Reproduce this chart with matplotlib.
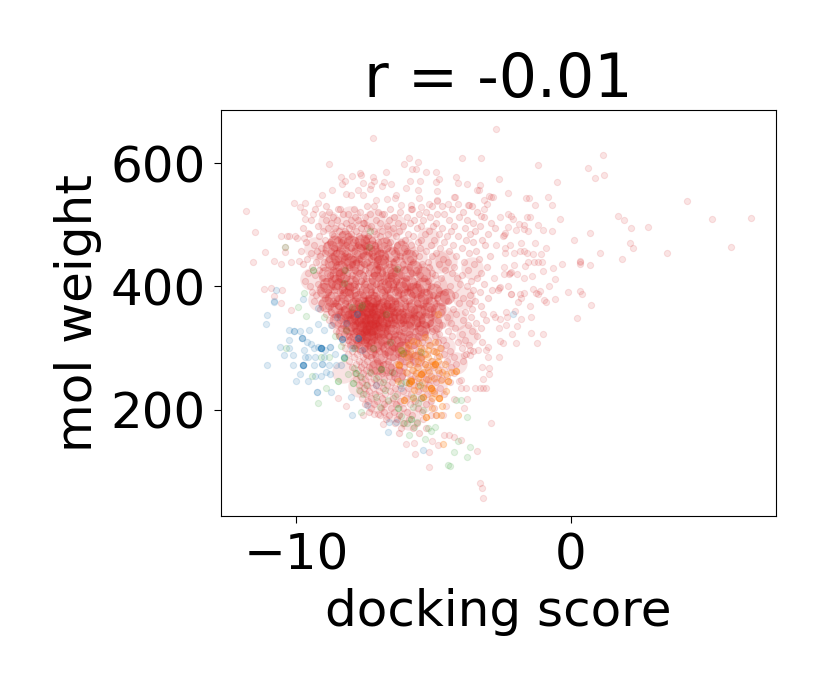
import numpy as np
import matplotlib
matplotlib.use("Agg")
import matplotlib.pyplot as plt

# points (docking score, mol weight)
blue_points = [
    (-11.05,354),(-11.09,339),(-10.79,375),(-10.73,394),(-10.79,376),(-11.05,273),
    (-9.76,273),(-9.76,273),(-9.76,273),(-9.76,273),(-9.76,273),(-9.1,301),(-9.1,301),(-9.1,301),(-9.1,301),(-9.1,301),(-9.1,301),
    (-9.77,316),(-9.77,316),(-9.77,316),(-10.06,328),(-10.06,328),(-10.24,329),(-9.87,328),
    (-10.57,302),(-10.24,301),(-10.44,289),(-10.02,247),(-9.25,229),(-9.25,229),(-9.55,247),(-8.73,229),
    (-8.76,302),(-8.76,302),(-8.33,315),(-8.33,315),(-8.33,315),(-7.76,316),(-7.76,316),(-7.76,316),
    (-7.78,355),(-7.78,355),(-8.27,285),(-8.27,285),(-9.05,274),(-9.05,274),(-9.72,297),(-9.36,300),
    (-9.55,286),(-10.12,273),(-9.84,258),(-7.97,191),(-7.42,208),(-8.02,221),(-6.62,180),(-6.36,180),
    (-6.64,164),(-5.37,135),(-9.21,339),(-8.97,329),(-9.54,329),(-10.24,313),(-10.12,289),(-8.79,273),
    (-8.55,273),(-8.36,273),(-9.33,255),(-9.09,255),(-8.76,258),(-7.97,300),(-7.6,297),(-6.18,235),
    (-7.09,240),(-8.18,340),(-8.73,338),(-9.67,286),(-9.36,273),(-2.1,355),(-9.2,302),(-8.95,297),
    (-9.46,306),(-9.0,285),(-8.6,290),(-8.9,262),(-9.3,285),(-9.6,310),(-8.5,350),(-9.2,365),(-9.75,380),
]
orange_points = [
    (-5.45,258),(-5.45,258),(-5.45,258),(-5.38,262),(-5.82,247),(-5.82,247),(-5.82,247),(-5.9,243),(-5.9,243),(-5.86,249),(-6.24,272),(-6.24,272),
    (-4.96,275),(-4.96,275),(-4.96,275),(-5.02,272),(-5.69,289),(-6.3,246),(-5.11,235),(-5.11,235),(-5.11,235),(-5.05,233),(-5.39,221),(-5.39,221),
    (-4.79,219),(-4.79,219),(-4.79,219),(-6.06,216),(-6.06,216),(-5.76,220),(-4.48,247),(-4.48,247),(-4.55,231),(-4.17,263),(-4.17,263),(-5.27,189),(-5.27,189),(-4.91,192),
    (-4.73,192),(-4.73,248),(-4.97,251),(-5.57,238),(-5.33,235),(-5.07,203),(-4.69,206),(-5.07,219),(-4.11,192),
    (-4.66,144),(-5.94,305),(-5.58,308),(-5.21,297),(-4.85,356),(-4.91,294),(-5.45,284),(-5.94,286),(-5.33,275),
    (-4.85,265),(-6.18,297),(-6.3,275),(-5.76,312),(-5.5,295),(-5.2,285),(-5.05,280),(-4.8,288),(-4.6,275),
    (-5.6,270),(-5.15,262),(-4.75,300),(-5.3,318),(-4.95,310),(-5.65,260),(-4.55,258),(-6.0,262),(-5.85,295),
    (-5.42,245),(-5.2,250),(-4.35,262),(-5.0,228),(-5.7,232),(-6.1,290),(-5.3,290),(-5.0,295),(-5.55,280),
    (-5.75,265),(-5.15,305),(-4.85,280),(-5.45,300),(-5.9,275),(-5.25,270),(-4.7,262),(-5.55,252),
]
green_points = [
    (-9.2,211),(-4.48,111),(-4.42,109),(-3.78,124),(-4.27,131),(-3.68,140),(-4.1,149),(-3.79,189),(-4.95,173),
    (-5.09,165),(-5.33,152),(-5.82,185),(-5.82,185),(-5.6,181),(-6.12,178),(-5.58,211),(-5.76,205),(-6.3,203),
    (-6.3,203),(-6.67,216),(-7.64,197),(-8.91,235),(-8.48,246),(-8.48,246),(-7.92,244),(-7.92,244),(-7.82,259),
    (-7.82,259),(-7.64,254),(-6.91,267),(-6.91,267),(-7.09,221),(-7.7,232),(-9.42,255),(-8.79,286),(-8.24,284),
    (-8.24,284),(-9.09,286),(-8.36,303),(-10.36,301),(-9.63,352),(-8.97,351),(-7.64,367),(-6.73,356),(-6.18,297),
    (-6.12,292),(-5.46,294),(-4.2,216),(-4.0,216),(-6.18,243),(-5.46,219),(-5.76,221),(-10.42,464),(-7.31,490),
    (-7.34,464),(-6.33,428),(-8.22,427),(-9.39,427),(-9.39,427),(-8.27,405),(-9.72,389),(-9.94,367),(-7.98,367),
    (-7.6,370),(-7.3,262),(-7.1,252),(-6.85,245),(-7.45,240),(-7.9,268),(-8.1,258),(-6.5,262),(-6.75,232),
    (-6.2,190),(-5.95,178),(-5.72,172),(-5.4,200),(-8.6,320),(-8.2,330),(-7.9,300),(-7.2,300),(-6.6,310),
    (-7.55,225),(-6.95,205),(-6.4,222),(-5.2,170),(-5.9,160),(-6.0,245),(-5.5,240),
]
red_outer = [
    (-2.73,656),(-1.21,597),(1.15,613),(0.63,592),(0.87,575),(1.19,581),(-0.53,569),(-2.64,574),(4.2,539),
    (5.11,509),(6.54,511),(5.83,464),(1.7,514),(1.94,508),(2.18,494),(2.8,496),(2.15,470),(2.24,462),
    (3.47,455),(1.84,444),(1.04,454),(0.69,486),(0.11,475),(0.33,439),(0.33,441),(0.33,437),(0.68,435),
    (-0.34,436),(-0.67,430),(-1.04,425),(-0.6,412),(-0.79,400),(-0.11,391),(0.33,392),(0.41,387),(0.74,370),
    (0.23,349),(-0.59,380),(-0.92,375),(-1.47,351),(-1.5,369),(-1.45,325),(-1.01,323),(-1.25,309),(-2.0,309),
    (-0.41,509),(-0.83,545),(-0.71,532),(-1.31,532),(-1.64,544),(-1.54,544),(-2.29,552),(-2.85,545),(-1.49,513),
    (-1.59,513),(-2.28,518),(-2.17,514),(-2.1,510),(-2.57,512),(-1.22,499),(-1.03,491),(-0.71,490),(-1.88,501),
    (-1.73,500),(-1.73,493),(-1.55,490),(-2.0,491),(-2.28,496),(-2.44,483),(-2.42,486),(-2.46,481),(-1.82,470),
    (-1.33,470),(-0.92,462),(-2.24,468),(-2.74,467),(-2.4,462),(-2.4,454),(-2.06,455),(-1.85,457),(-1.73,457),
    (-1.61,455),(-1.37,452),(-1.09,453),(-1.35,440),(-1.2,440),(-1.07,440),(-1.55,439),(-1.67,433),(-2.07,435),
    (-2.44,432),(-2.22,422),(-2.2,424),(-2.25,421),(-2.44,421),(-1.95,421),(-1.43,417),(-1.7,413),(-2.82,413),
    (-2.62,397),(-2.6,399),(-2.65,395),(-2.28,400),(-2.19,387),(-2.17,388),(-1.85,388),(-1.83,381),(-1.7,390),
    (-1.92,375),(-1.39,396),(-1.13,393),(-1.19,387),(-1.27,389),(-1.0,378),(-2.38,359),(-2.04,360),(-1.82,347),
    (-2.85,356),(-2.76,351),(-2.58,347),(-2.34,351),(-2.61,332),(-2.36,338),(-1.98,336),(-2.15,323),(-2.58,311),
    (-2.46,308),(-11.82,523),(-11.49,488),(-11.12,456),(-11.58,440),(-10.79,442),(-10.56,436),(-10.2,439),
    (-9.9,442),(-10.55,482),(-10.34,482),(-10.04,482),(-10.25,482),(-9.95,479),(-9.73,479),(-9.55,487),
    (-10.42,464),(-10.4,456),(-10.06,536),(-9.84,529),(-9.66,535),(-9.67,509),(-9.4,517),(-9.19,535),(-9.05,548),
    (-8.69,557),(-8.81,599),(-7.22,641),(-8.35,578),(-8.22,571),(-8.34,566),(-7.96,579),(-7.68,584),(-7.63,580),
    (-7.21,578),(-7.17,571),(-7.27,564),(-6.73,585),(-6.79,570),(-6.86,563),(-6.54,566),(-7.55,568),(-7.31,558),
    (-6.06,599),(-5.88,609),(-5.55,602),(-5.79,590),(-5.65,591),(-5.26,585),(-4.91,585),(-4.79,574),(-4.91,570),
    (-5.87,571),(-5.49,571),(-6.0,559),(-5.58,557),(-4.87,555),(-5.54,544),(-4.88,539),(-4.88,540),(-4.2,577),
    (-4.11,567),(-3.79,566),(-3.96,609),(-3.29,609),(-3.43,556),(-3.33,564),(-3.36,556),(-4.24,545),(-4.22,545),
    (-4.46,533),(-4.12,533),(-3.73,532),(-3.75,532),(-3.15,540),(-2.99,546),(-2.93,545),(-3.06,533),(-3.15,525),
    (-3.28,515),(-8.2,550),(-8.0,548),(-7.76,556),(-7.58,548),(-7.09,540),(-6.7,541),(-6.42,543),(-6.36,548),
    (-6.18,532),(-5.82,532),(-5.46,529),(-5.15,533),(-2.9,179),(-3.43,134),(-5.16,107),(-3.3,81),(-3.24,73),
    (-3.21,57),(-5.66,128),(-5.18,131),(-4.84,143),(-4.61,159),(-4.43,159),(-4.24,156),(-4.02,151),(-5.07,150),
    (-6.0,145),(-5.7,146),(-3.79,218),(-4.24,217),(-3.9,203),(-4.54,207),(-4.66,192),(-4.91,192),(-3.82,235),
    (-3.51,235),(-3.33,235),(-3.2,235),(-3.09,235),(-4.0,235),(-3.19,250),(-2.97,258),(-3.23,269),(-2.99,268),
    (-2.63,286),(-3.03,286),(-3.39,297),(-3.09,297),(-3.03,302),(-3.69,297),(-3.88,289),(-3.69,289),(-8.46,220),
    (-8.18,206),(-7.58,192),(-7.15,193),(-7.03,193),(-6.85,177),(-4.07,246),(-4.0,248),(-10.5,395),(-10.9,398),
    (-11.15,396),(-10.8,385),(-10.55,373),(-10.2,362),
]
# inner cloud, written row by row: mol weight, then the scores seen around it
red_rows = [
    (531, [-8.93,-7.41,-7.18,-5.06,-4.71,-3.62]),
    (526, [-9.32,-8.47,-8.39,-7.91,-6.58,-5.83,-5.77,-4.33]),
    (521, [-9.71,-8.81,-7.66,-7.02,-6.21,-5.29,-3.94,-3.41]),
    (517, [-9.07,-8.28,-8.13,-7.33,-6.87,-6.79,-5.54,-4.88,-4.62]),
    (513, [-8.66,-7.87,-7.49,-6.44,-5.97,-5.12,-4.07,-3.18]),
    (507, [-9.44,-8.92,-8.51,-8.02,-7.74,-7.11,-6.63,-5.71,-5.38,-4.45,-3.77]),
    (503, [-8.74,-8.18,-7.58,-7.52,-6.96,-6.31,-5.86,-4.93,-3.55,-2.92]),
    (498, [-9.21,-8.36,-7.95,-7.28,-6.71,-6.12,-5.47,-5.02,-4.24,-3.31]),
    (494, [-9.76,-8.83,-8.59,-8.07,-7.63,-7.41,-6.49,-5.62,-4.68,-3.86,-2.77]),
    (490, [-9.03,-8.44,-8.23,-7.81,-7.17,-6.88,-6.25,-5.18,-4.37,-3.49]),
    (485, [-9.52,-8.71,-8.32,-7.99,-7.54,-7.08,-6.66,-5.93,-5.33,-4.81,-3.67,-3.02]),
    (481, [-9.18,-8.63,-8.11,-7.72,-7.37,-6.94,-6.38,-5.74,-4.52,-4.12]),
    (476, [-8.96,-8.52,-8.28,-7.86,-7.47,-7.23,-6.74,-6.03,-5.44,-4.97,-3.83,-3.25]),
    (472, [-9.65,-8.77,-8.38,-7.93,-7.61,-7.02,-6.57,-6.19,-5.58,-4.63,-3.58]),
    (467, [-9.34,-8.86,-8.17,-7.76,-7.51,-7.14,-6.81,-6.33,-5.81,-5.09,-4.29,-3.12]),
    (463, [-9.08,-8.61,-8.42,-8.01,-7.68,-7.29,-6.69,-6.08,-5.49,-4.76,-3.95]),
    (458, [-9.83,-9.24,-8.73,-8.33,-7.89,-7.44,-7.06,-6.52,-5.95,-5.26,-4.43,-3.44]),
    (454, [-9.47,-8.94,-8.55,-8.21,-7.79,-7.35,-6.91,-6.44,-5.68,-4.91,-3.71]),
    (449, [-9.12,-8.68,-8.27,-8.06,-7.57,-7.19,-6.77,-6.22,-5.53,-5.04,-4.18,-2.96]),
    (445, [-9.61,-8.81,-8.46,-7.92,-7.71,-7.26,-7.01,-6.35,-5.87,-4.66,-3.36]),
    (440, [-9.29,-8.99,-8.58,-8.14,-7.83,-7.42,-6.84,-6.47,-5.76,-5.21,-4.49,-3.88]),
    (436, [-9.74,-8.72,-8.36,-7.97,-7.53,-7.11,-6.63,-6.11,-5.42,-4.82,-3.52]),
    (431, [-9.41,-9.03,-8.49,-8.09,-7.66,-7.31,-6.97,-6.29,-5.91,-5.15,-4.25,-3.07]),
    (427, [-9.16,-8.64,-8.25,-7.84,-7.49,-7.05,-6.58,-6.05,-5.63,-4.59,-3.74]),
    (422, [-9.57,-8.89,-8.43,-8.11,-7.73,-7.38,-6.86,-6.41,-5.79,-5.07,-4.33,-3.28]),
    (418, [-9.33,-8.76,-8.31,-7.96,-7.55,-7.16,-6.73,-6.17,-5.51,-4.95,-3.97]),
    (413, [-9.05,-8.57,-8.19,-7.81,-7.44,-7.02,-6.55,-6.01,-5.34,-4.72,-4.14,-3.42]),
    (409, [-9.68,-8.93,-8.47,-8.03,-7.63,-7.25,-6.82,-6.37,-5.72,-5.22,-3.63]),
    (404, [-9.22,-8.69,-8.34,-7.88,-7.51,-7.09,-6.64,-6.12,-5.59,-4.88,-4.03,-3.17]),
    (400, [-9.51,-8.98,-8.52,-8.13,-7.76,-7.33,-6.93,-6.46,-5.84,-5.11,-4.41,-3.79]),
    (395, [-9.11,-8.62,-8.24,-7.91,-7.47,-7.13,-6.71,-6.24,-5.66,-4.79,-3.55,-2.88]),
    (391, [-9.42,-8.83,-8.41,-8.04,-7.69,-7.27,-6.89,-6.39,-5.97,-5.28,-4.57,-3.33]),
    (386, [-9.27,-8.74,-8.29,-7.85,-7.58,-7.18,-6.76,-6.28,-5.78,-5.03,-4.21,-3.66]),
    (382, [-8.96,-8.51,-8.16,-7.77,-7.39,-7.04,-6.61,-6.08,-5.46,-4.86,-3.92,-3.01]),
    (377, [-9.36,-8.67,-8.37,-7.94,-7.52,-7.21,-6.83,-6.42,-5.88,-5.17,-4.46,-3.48]),
    (373, [-9.08,-8.58,-8.21,-7.82,-7.43,-7.1,-6.69,-6.19,-5.61,-4.93,-4.09,-3.73]),
    (368, [-8.84,-8.46,-8.07,-7.71,-7.33,-6.98,-6.52,-6.03,-5.37,-4.68,-3.26]),
    (364, [-9.14,-8.62,-8.27,-7.89,-7.56,-7.19,-6.78,-6.33,-5.82,-5.12,-4.31,-3.59]),
    (359, [-8.73,-8.35,-7.98,-7.62,-7.25,-6.88,-6.47,-5.94,-5.29,-4.74,-3.86]),
    (355, [-8.92,-8.49,-8.12,-7.74,-7.41,-7.06,-6.59,-6.11,-5.54,-4.97,-4.17,-3.19]),
    (350, [-8.58,-8.22,-7.86,-7.49,-7.14,-6.74,-6.26,-5.73,-5.08,-4.52,-3.64]),
    (346, [-8.81,-8.39,-8.03,-7.67,-7.32,-6.95,-6.54,-6.02,-5.41,-4.83,-3.94,-3.08]),
    (341, [-8.47,-8.14,-7.79,-7.44,-7.08,-6.67,-6.18,-5.62,-5.14,-4.38,-3.47]),
    (337, [-8.69,-8.28,-7.93,-7.57,-7.21,-6.82,-6.39,-5.86,-5.27,-4.71,-3.75]),
    (332, [-8.36,-8.01,-7.68,-7.31,-6.97,-6.56,-6.07,-5.48,-4.91,-4.23,-3.28]),
    (328, [-8.54,-8.17,-7.82,-7.46,-7.12,-6.71,-6.24,-5.69,-5.06,-4.47,-3.61]),
    (323, [-8.26,-7.91,-7.59,-7.24,-6.88,-6.43,-5.91,-5.32,-4.79,-3.98]),
    (319, [-8.44,-8.08,-7.73,-7.38,-7.03,-6.62,-6.13,-5.57,-4.96,-4.34,-3.42]),
    (314, [-8.12,-7.81,-7.47,-7.16,-6.79,-6.34,-5.82,-5.21,-4.66,-3.85]),
    (310, [-8.31,-7.95,-7.63,-7.29,-6.92,-6.51,-6.02,-5.43,-4.83,-4.12,-3.23]),
    (305, [-8.04,-7.72,-7.39,-7.07,-6.68,-6.22,-5.71,-5.13,-4.55,-3.72]),
    (300, [-8.22,-7.86,-7.54,-7.21,-6.85,-6.44,-5.93,-5.36,-4.74,-3.96]),
    (295, [-7.96,-7.66,-7.33,-6.99,-6.58,-6.11,-5.58,-5.02,-4.41,-3.58]),
    (290, [-8.13,-7.78,-7.47,-7.14,-6.76,-6.31,-5.79,-5.24,-4.63,-3.82]),
    (285, [-7.88,-7.58,-7.27,-6.91,-6.49,-6.01,-5.47,-4.89,-4.27]),
    (280, [-8.07,-7.71,-7.41,-7.06,-6.66,-6.21,-5.68,-5.09,-4.52,-3.92]),
    (275, [-7.83,-7.52,-7.2,-6.83,-6.37,-5.87,-5.31,-4.73,-4.18]),
    (270, [-7.97,-7.64,-7.34,-6.98,-6.56,-6.09,-5.56,-4.97,-4.38]),
    (265, [-7.75,-7.45,-7.12,-6.73,-6.27,-5.77,-5.21,-4.62]),
    (260, [-7.87,-7.57,-7.26,-6.88,-6.44,-5.95,-5.42,-4.81,-4.24]),
    (255, [-7.69,-7.38,-7.03,-6.62,-6.16,-5.66,-5.09,-4.53]),
    (250, [-7.81,-7.5,-7.17,-6.79,-6.33,-5.83,-5.27,-4.7]),
    (245, [-7.6,-7.29,-6.94,-6.52,-6.04,-5.52,-4.93,-4.4]),
    (240, [-7.72,-7.43,-7.08,-6.69,-6.23,-5.72,-5.16]),
    (235, [-7.54,-7.21,-6.84,-6.41,-5.93,-5.37,-4.76]),
    (230, [-7.66,-7.34,-6.98,-6.58,-6.11,-5.58,-4.98]),
    (225, [-7.46,-7.13,-6.75,-6.32,-5.81,-5.23,-4.62]),
    (220, [-7.59,-7.26,-6.89,-6.48,-6.01,-5.44]),
    (215, [-7.38,-7.04,-6.66,-6.22,-5.69,-5.09]),
    (209, [-7.49,-7.17,-6.79,-6.37,-5.87,-5.29]),
    (203, [-7.27,-6.93,-6.54,-6.12,-5.58,-4.97]),
    (197, [-7.36,-6.81,-6.44,-5.98,-5.42]),
    (191, [-6.96,-6.62,-6.27,-5.79,-5.11]),
    (185, [-6.72,-6.33,-5.91,-5.37]),
    (178, [-6.41,-6.07,-5.62]),
    (170, [-6.19,-5.74,-5.28]),
    (162, [-6.26,-5.52]),
]
# broad pale wash under the cloud, one typed point stands in for several
red_wash = [
    (-9.3,462),(-8.82,505),(-8.41,478),(-8.93,443),(-8.05,512),(-7.62,490),(-7.88,454),(-7.18,508),(-6.78,481),
    (-7.31,446),(-6.39,500),(-6.06,462),(-6.71,432),(-5.63,448),(-5.21,478),(-4.82,440),(-9.45,412),(-9.18,378),
    (-4.36,408),(-3.91,382),(-4.18,348),(-4.62,302),(-4.2,276),(-3.78,322),(-8.3,262),(-7.71,238),(-7.12,212),
    (-6.52,198),(-5.88,186),(-5.41,212),(-4.92,238),(-6.22,222),(-6.8,248),(-5.6,246),(-5.08,262),(-7.35,272),
    (-6.35,272),(-5.75,298),(-5.15,322),(-4.71,352),(-5.42,352),(-4.9,400),(-5.35,420),(-4.55,442),(-3.6,430),
]
# hottest part of the cloud
red_core = [
    (-8.6,470),(-8.3,455),(-8.0,470),(-7.7,458),(-7.4,472),(-7.1,455),(-6.8,468),(-6.5,452),(-6.2,462),(-5.9,448),
    (-8.7,440),(-8.4,430),(-8.1,442),(-7.8,432),(-7.5,445),(-7.2,428),(-6.9,440),(-6.6,425),(-6.3,436),(-6.0,422),
    (-5.7,430),(-5.4,420),(-8.9,420),(-8.6,408),(-8.3,418),(-8.0,405),(-7.7,415),(-7.4,402),(-7.1,412),(-6.8,400),
    (-6.5,410),(-6.2,396),(-5.9,405),(-5.6,392),(-5.3,385),(-5.0,392),(-4.7,382),(-9.0,395),(-8.7,380),(-8.45,400),
    (-8.2,385),(-7.95,395),(-7.7,382),(-7.45,392),(-7.2,380),(-6.95,390),(-6.7,376),(-6.45,388),(-6.2,372),(-5.95,384),
    (-5.7,368),(-5.45,378),(-5.2,362),(-8.9,372),(-8.6,362),(-8.35,375),(-8.1,360),(-7.85,370),(-7.6,358),(-7.35,372),
    (-7.1,360),(-6.85,368),(-6.6,355),(-6.35,365),(-6.1,352),(-5.85,362),(-5.6,348),(-8.5,345),(-8.25,355),(-8.0,340),
    (-7.75,350),(-7.5,338),(-7.25,350),(-7.0,340),(-6.75,348),(-6.5,335),(-6.25,345),(-6.0,332),(-5.75,342),(-5.5,325),
    (-8.3,325),(-8.05,335),(-7.8,322),(-7.55,332),(-7.3,320),(-7.05,330),(-6.8,318),(-6.55,326),(-6.3,315),(-6.05,322),
    (-5.8,312),(-7.9,312),(-7.65,305),(-7.4,315),(-7.15,305),(-6.9,312),(-6.65,300),(-6.4,308),(-6.15,298),(-7.35,342),
    (-7.2,335),(-7.45,352),(-7.6,345),(-7.05,352),(-7.3,362),(-6.9,328),(-7.55,320),(-7.3,332),(-7.15,345),(-7.4,325),
    (-7.0,365),(-7.7,335),(-6.85,340),(-7.45,365),(-7.25,375),(-7.6,372),(-7.85,358),(-8.0,350),(-6.6,345),(-6.7,362),
    # upper left patch and the band to the right of the middle
    (-8.75,462),(-8.48,448),(-8.22,478),(-7.95,438),(-8.52,418),(-8.86,402),(-8.18,398),(-7.62,472),(-7.28,462),
    (-6.92,448),(-6.42,418),(-6.12,402),(-5.72,395),(-5.38,402),(-5.12,372),(-4.85,362),(-4.52,385),(-5.55,358),
    (-5.28,345),(-4.95,338),(-6.28,352),(-6.55,372),(-5.98,345),(-5.42,332),(-6.62,402),(-7.02,422),
    # thinner lower part
    (-7.35,295),(-6.95,288),(-6.5,292),(-6.05,285),(-6.72,268),(-6.28,258),(-5.62,282),(-7.1,270),
]

xlim = (-12.73, 7.45)
ylim = (28, 686)
xticks = [-10, 0]
yticks = [200, 400, 600]
title = "r = -0.01"

fig = plt.figure(figsize=(8.3, 6.92), dpi=100)
ax = fig.add_axes([221 / 830, 1 - 516 / 692, 555 / 830, 406 / 692])

pt_blue = np.array(blue_points)
pt_orange = np.array(orange_points)
pt_green = np.array(green_points)
pt_outer = np.array(red_outer)
pt_wash = np.array(red_wash)
pt_core = np.array(red_core)
rows_x = np.concatenate([row[1] for row in red_rows])
rows_y = np.concatenate([[row[0]] * len(row[1]) for row in red_rows])

ax.scatter(pt_wash[:, 0], pt_wash[:, 1], s=260, color="tab:red", alpha=0.13, linewidths=0)
ax.scatter(pt_core[:, 0], pt_core[:, 1], s=130, color="tab:red", alpha=0.3, linewidths=0)
ax.scatter(pt_outer[:, 0], pt_outer[:, 1], s=20, color="tab:red", alpha=0.12, linewidths=0.8)
ax.scatter(rows_x, rows_y, s=20, color="tab:red", alpha=0.15, linewidths=0.8)
ax.scatter(pt_blue[:, 0], pt_blue[:, 1], s=20, color="tab:blue", alpha=0.15, linewidths=0.8)
ax.scatter(pt_orange[:, 0], pt_orange[:, 1], s=20, color="tab:orange", alpha=0.25, linewidths=0.8)
ax.scatter(pt_green[:, 0], pt_green[:, 1], s=20, color="tab:green", alpha=0.13, linewidths=0.8)

ax.set_xlim(xlim)
ax.set_ylim(ylim)
ax.set_xticks(xticks)
ax.set_yticks(yticks)
ax.tick_params(labelsize=36, pad=6, length=5)
ax.set_xlabel("docking score", fontsize=36, labelpad=6)
ax.set_ylabel("mol weight", fontsize=36, labelpad=6)
ax.set_title(title, fontsize=43.2, pad=8)

fig.savefig("out.png", dpi=100)
